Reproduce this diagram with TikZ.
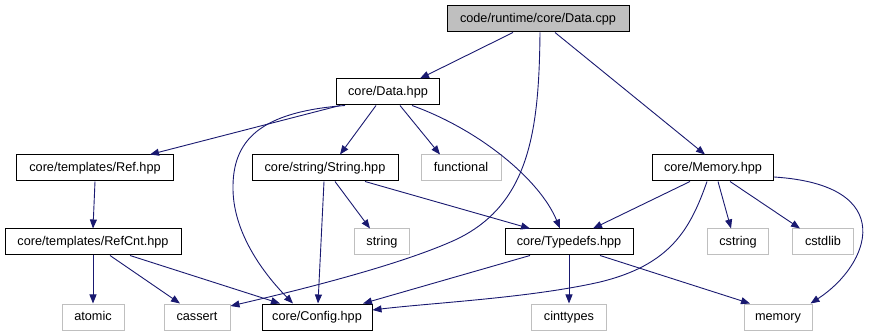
\documentclass[tikz,border=0pt]{standalone}
\usepackage{fontspec}
\setmainfont{Liberation Sans}
\usetikzlibrary{arrows.meta,calc}
\definecolor{edgeblue}{HTML}{191970}
\definecolor{sysgrey}{HTML}{BFBFBF}
\begin{document}
\begin{tikzpicture}[x=1pt,y=-1pt,
  file/.style={draw=black,line width=1pt,inner sep=0pt,minimum height=26pt,
    font=\fontsize{12.7}{15}\selectfont,text height=9.5pt,text depth=2.5pt},
  sys/.style={file,draw=sysgrey},
  mainfile/.style={file,fill=sysgrey},
  dep/.style={draw=edgeblue,line width=0.9pt,-{Triangle[length=9pt,width=7pt]}},
]
\useasboundingbox (0,0) rectangle (877,336);

% include graph nodes
\node[mainfile,minimum width=182pt] (dcpp) at (538,19) {code/runtime/core/Data.cpp};
\node[file,minimum width=103pt] (dhpp) at (388,92) {core/Data.hpp};
\node[file,minimum width=157pt] (ref) at (95,168) {core/templates/Ref.hpp};
\node[file,minimum width=146pt] (str) at (325,168) {core/string/String.hpp};
\node[sys,minimum width=80pt] (func) at (461,168) {functional};
\node[file,minimum width=121pt] (mem) at (713,168) {core/Memory.hpp};
\node[file,minimum width=176pt] (refcnt) at (93,242) {core/templates/RefCnt.hpp};
\node[sys,minimum width=55pt] (strg) at (382,242) {string};
\node[file,minimum width=128pt] (typ) at (569,242) {core/Typedefs.hpp};
\node[sys,minimum width=61pt] (cstring) at (738,242) {cstring};
\node[sys,minimum width=61pt] (cstdlib) at (823,242) {cstdlib};
\node[sys,minimum width=62pt] (atomic) at (93,317) {atomic};
\node[sys,minimum width=66pt] (cassert) at (197,317) {cassert};
\node[file,minimum width=110pt] (config) at (317,317) {core/Config.hpp};
\node[sys,minimum width=75pt] (cint) at (569,317) {cinttypes};
\node[sys,minimum width=68pt] (memory) at (778,317) {memory};

% Data.cpp includes
\draw[dep] ($(dcpp.south)+(-25,0)$) -- ($(dhpp.north)+(32,0)$);
\draw[dep] ($(dcpp.south)+(2,0)$) .. controls (539,130) and (530,205) .. (455,240)
  .. controls (400,265) and (300,290) .. ($(cassert.east)+(0,-11)$);
\draw[dep] ($(dcpp.south)+(17,0)$) -- ($(mem.north)+(-8,0)$);

% Data.hpp includes
\draw[dep] ($(dhpp.south)+(-48,0)$) -- ($(ref.north)+(55,0)$);
\draw[dep] ($(dhpp.south)+(-43,0)$) .. controls (260,112) and (232,140) .. (233,190)
  .. controls (234,235) and (265,275) .. ($(config.north)+(-24,0)$);
\draw[dep] ($(dhpp.south)+(-12,0)$) -- ($(str.north)+(15,0)$);
\draw[dep] ($(dhpp.south)+(12,0)$) -- ($(func.north)+(-21,0)$);
\draw[dep] ($(dhpp.south)+(24,0)$) .. controls (480,130) and (540,180) .. ($(typ.north)+(-9,0)$);

% Ref.hpp / String.hpp includes
\draw[dep] (ref.south) -- (refcnt.north);
\draw[dep] ($(str.south)+(-1,0)$) -- ($(config.north)+(1,0)$);
\draw[dep] ($(str.south)+(10,0)$) -- ($(strg.north)+(-12,0)$);
\draw[dep] ($(str.south)+(40,0)$) -- ($(typ.north)+(-39,0)$);

% Memory.hpp includes
\draw[dep] ($(mem.south)+(-23,0)$) -- ($(typ.north)+(24,0)$);
\draw[dep] ($(mem.south)+(-6,0)$) .. controls (690,230) and (670,265) .. (600,282)
  .. controls (530,298) and (430,303) .. ($(config.east)+(0,-7)$);
\draw[dep] ($(mem.south)+(5,0)$) -- ($(cstring.north)+(-7,0)$);
\draw[dep] ($(mem.south)+(17,0)$) -- ($(cstdlib.north)+(-23,0)$);
\draw[dep] ($(mem.east)+(0,9)$) .. controls (900,185) and (870,265) .. ($(memory.north east)+(-2,0)$);

% RefCnt.hpp includes
\draw[dep] (refcnt.south) -- (atomic.north);
\draw[dep] ($(refcnt.south)+(17,0)$) -- ($(cassert.north)+(-17,0)$);
\draw[dep] ($(refcnt.south)+(37,0)$) -- ($(config.north)+(-37,0)$);

% Typedefs.hpp includes
\draw[dep] ($(typ.south)+(-39,0)$) -- ($(config.north)+(46,0)$);
\draw[dep] (typ.south) -- (cint.north);
\draw[dep] ($(typ.south)+(31,0)$) -- ($(memory.north)+(-28,0)$);
\end{tikzpicture}
\end{document}
